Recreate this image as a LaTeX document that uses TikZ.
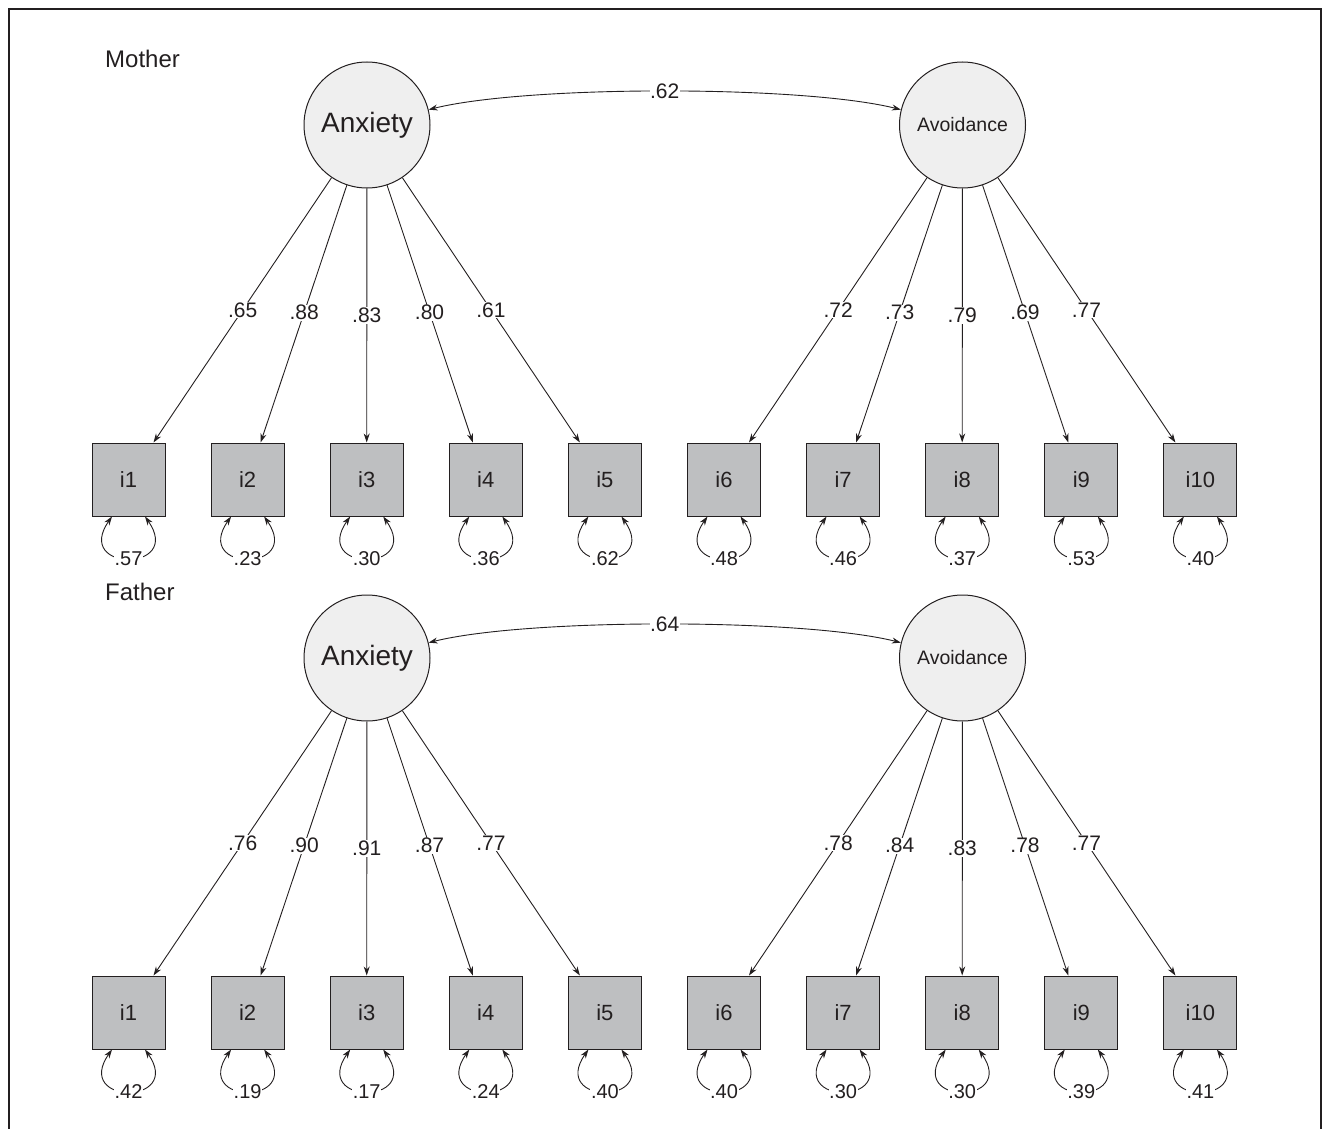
\documentclass[tikz,border=0pt]{standalone}
\usepackage{fontspec}
\setmainfont{Liberation Sans}
\usetikzlibrary{arrows.meta,calc}
\definecolor{circfill}{HTML}{EFEFEF}
\definecolor{boxfill}{HTML}{BEBFC1}
\definecolor{ink}{HTML}{231F20}
\tikzset{
  x=1pt, y=1pt,
  every path/.style={color=ink},
  latent/.style={circle, draw=ink, fill=circfill, minimum size=126pt, inner sep=0pt, line width=1pt},
  item/.style={rectangle, draw=ink, fill=boxfill, minimum size=73pt, inner sep=0pt, line width=1pt,
    text=ink, font=\fontsize{22}{22}\selectfont},
  tip/.tip={Stealth[length=9pt,width=6pt]},
  load/.style={line width=0.9pt, -tip},
  cov/.style={line width=0.9pt, tip-tip},
  resid/.style={line width=0.9pt, tip-tip},
  lab/.style={fill=white, inner sep=0.6pt, text=ink, font=\fontsize{21}{21}\selectfont},
  rlab/.style={fill=white, inner sep=0.6pt, text=ink, font=\fontsize{20}{20}\selectfont},
  titlelab/.style={inner sep=0pt, text=ink, font=\fontsize{24}{24}\selectfont},
}
\newcommand\semblock[5]{%
  % #1 prefix, #2 vertical offset, #3 title, #4 covariance, #5 list k/loading/residual
  \node[titlelab, anchor=west] (#1title) at (105,-59-#2) {#3};
  \node[latent, text=ink, font=\fontsize{28}{28}\selectfont] (#1anx) at (367,-125-#2) {Anxiety};
  \node[latent, text=ink, font=\fontsize{19.5}{19.5}\selectfont] (#1avo) at (962.5,-125-#2) {Avoidance};
  \draw[cov] (#1anx) to[bend left=14, looseness=0.55] node[lab] (#1covlab) {#4} (#1avo);
  \foreach \k/\ld/\rs in {#5}{%
    \pgfmathsetmacro\xpos{128.5+119.1*(\k-1)}
    \pgfmathsetmacro\dx{{25,13,0,-13,-25}[mod(\k-1,5)]}
    \pgfmathsetmacro\tpos{{0.582,0.591,0.6,0.591,0.582}[mod(\k-1,5)]}
    \ifnum\k<6 \def\lat{#1anx}\else\def\lat{#1avo}\fi
    \node[item] (#1i\k) at (\xpos,-479.5-#2) {i\k};
    \coordinate (#1t\k) at ([xshift=\dx pt]#1i\k.north);
    \draw[load] (\lat) -- (#1t\k);
    \node[lab] (#1l\k) at ($(\lat.center)!\tpos!(#1t\k)$) {\ld};
    \draw[resid] ([xshift=-16.5pt]#1i\k.south) to[out=235, in=305, looseness=5.3]
      node[rlab] (#1r\k) {\rs} ([xshift=16.5pt]#1i\k.south);
  }
}
\begin{document}
\begin{tikzpicture}
  \useasboundingbox (0,0) rectangle (1323,-1129);
  \draw[line width=1.3pt] (9,-1135) -- (9,-9) -- (1321,-9) -- (1321,-1135);
  \semblock{m}{0}{Mother}{.62}{1/.65/.57, 2/.88/.23, 3/.83/.30, 4/.80/.36, 5/.61/.62,
    6/.72/.48, 7/.73/.46, 8/.79/.37, 9/.69/.53, 10/.77/.40}
  \semblock{f}{533}{Father}{.64}{1/.76/.42, 2/.90/.19, 3/.91/.17, 4/.87/.24, 5/.77/.40,
    6/.78/.40, 7/.84/.30, 8/.83/.30, 9/.78/.39, 10/.77/.41}
\end{tikzpicture}
\end{document}
